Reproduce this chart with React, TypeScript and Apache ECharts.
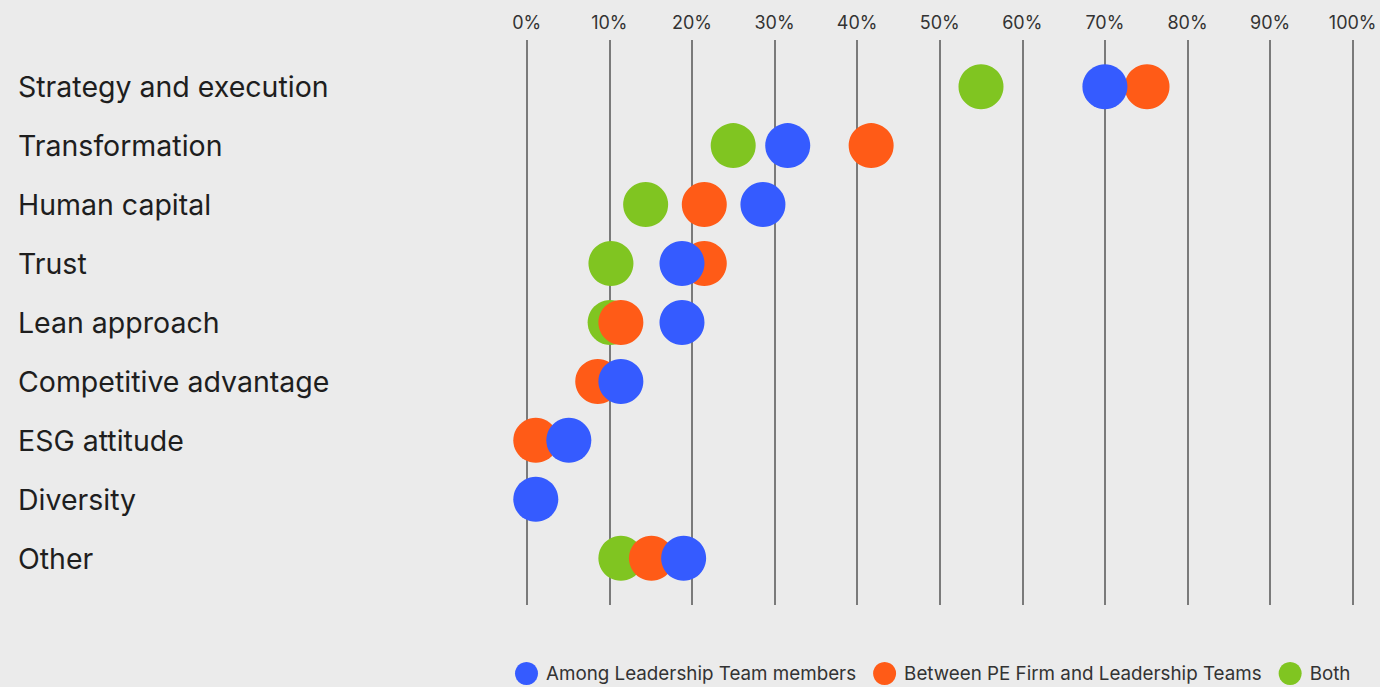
import React, { useEffect, useRef } from "react";
import * as echarts from "echarts";

const categories = [
  "Strategy and execution",
  "Transformation",
  "Human capital",
  "Trust",
  "Lean approach",
  "Competitive advantage",
  "ESG attitude",
  "Diversity",
  "Other",
];
const among: (number | null)[] = [70, 31.6, 28.6, 18.8, 18.8, 11.4, 5.1, 1.1, 19];
const between: (number | null)[] = [75.1, 41.7, 21.5, 21.5, 11.4, 8.6, 1.1, null, 15.1];
const both: (number | null)[] = [55, 25, 14.4, 10.2, 10.1, null, null, null, 11.4];
const xTicks = { min: 0, max: 100, interval: 10 };

const seriesNames = [
  "Among Leadership Team members",
  "Between PE Firm and Leadership Teams",
  "Both",
];
const BLUE = "#355BFF";
const ORANGE = "#FF5B17";
const GREEN = "#80C521";

const toPoints = (vals: (number | null)[]) =>
  vals
    .map((v, i) => (v === null ? null : [v, categories[i]]))
    .filter((p) => p !== null);

export default function App() {
  const ref = useRef<HTMLDivElement>(null);
  useEffect(() => {
    if (!ref.current) return;
    const chart = echarts.init(ref.current, undefined, { renderer: "svg" });
    const font = "Inter, 'Noto Sans', sans-serif";
    chart.setOption({
      animation: false,
      backgroundColor: "#EBEBEB",
      textStyle: { fontFamily: font },
      grid: [
        { left: 526.7, right: 27.3, top: 40, bottom: 82 },
        { left: 526.7, right: 27.3, top: 57.2, bottom: 99.3 },
      ],
      xAxis: [
        {
          gridIndex: 0,
          type: "value",
          position: "top",
          min: xTicks.min,
          max: xTicks.max,
          interval: xTicks.interval,
          axisLine: { show: false },
          axisTick: { show: false },
          axisLabel: {
            formatter: "{value}%",
            fontSize: 18,
            color: "#333",
            margin: 9,
            fontFamily: font,
          },
          splitLine: { show: true, lineStyle: { color: "#555", width: 1.5 } },
        },
        {
          gridIndex: 1,
          type: "value",
          min: xTicks.min,
          max: xTicks.max,
          show: false,
        },
      ],
      yAxis: [
        { gridIndex: 0, type: "value", show: false },
        {
          gridIndex: 1,
          type: "category",
          data: categories,
          inverse: true,
          axisLine: { show: false },
          axisTick: { show: false },
          splitLine: { show: false },
          axisLabel: {
            align: "left",
            margin: 508.7,
            fontSize: 28.5,
            color: "#1e1e1e",
            fontFamily: font,
          },
        },
      ],
      legend: {
        data: seriesNames,
        left: 510,
        top: 657,
        icon: "circle",
        itemWidth: 23,
        itemHeight: 23,
        itemGap: 17,
        textStyle: {
          fontSize: 18.8,
          color: "#333",
          fontFamily: font,
          padding: [0, 0, 0, 3],
        },
      },
      series: [
        {
          name: seriesNames[2],
          type: "scatter",
          xAxisIndex: 1,
          yAxisIndex: 1,
          symbolSize: 45,
          itemStyle: { color: GREEN, opacity: 1 },
          data: toPoints(both),
          z: 2,
        },
        {
          name: seriesNames[1],
          type: "scatter",
          xAxisIndex: 1,
          yAxisIndex: 1,
          symbolSize: 45,
          itemStyle: { color: ORANGE, opacity: 1 },
          data: toPoints(between),
          z: 3,
        },
        {
          name: seriesNames[0],
          type: "scatter",
          xAxisIndex: 1,
          yAxisIndex: 1,
          symbolSize: 45,
          itemStyle: { color: BLUE, opacity: 1 },
          data: toPoints(among),
          z: 4,
        },
      ],
    });
    return () => chart.dispose();
  }, []);
  return (
    <div
      ref={ref}
      style={{ position: "fixed", left: 0, top: 0, width: 1380, height: 687 }}
    />
  );
}
